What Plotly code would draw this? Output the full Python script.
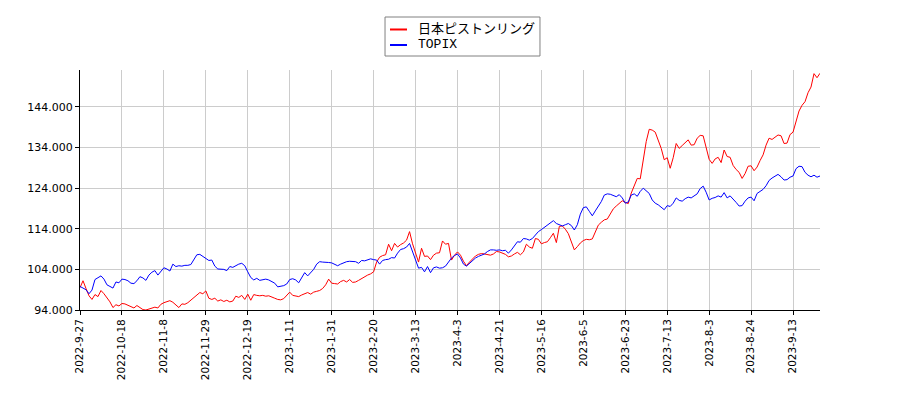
import plotly.graph_objects as go

tick_labels = ["2022-9-27", "2022-10-18", "2022-11-8", "2022-11-29", "2022-12-19",
               "2023-1-11", "2023-1-31", "2023-2-20", "2023-3-13", "2023-4-3",
               "2023-4-21", "2023-5-16", "2023-6-5", "2023-6-23", "2023-7-13",
               "2023-8-3", "2023-8-24", "2023-9-13"]
tick_step = 14

series_names = ["日本ピストンリング", "TOPIX"]
series_colors = ["#ff0000", "#0000ff"]

piston = [
    99.5, 101.2, 99.3, 97.5, 96.6, 97.8, 97.3, 98.8, 98.0, 97.0,
    96.0, 94.6, 95.3, 95.0, 95.6, 95.5, 95.2, 94.8, 94.5, 95.1,
    94.6, 94.1, 94.0, 94.2, 94.4, 94.7, 94.5, 95.4, 95.8, 96.1,
    96.3, 95.9, 95.2, 94.6, 95.5, 95.4, 95.8, 96.4, 97.1, 97.8,
    98.3, 98.0, 98.7, 96.9, 96.6, 96.9, 96.2, 96.5, 96.1, 96.4,
    96.0, 96.2, 97.4, 97.1, 97.6, 96.6, 97.9, 96.4, 97.8, 97.6,
    97.5, 97.6, 97.4, 97.5, 97.1, 96.9, 96.6, 96.5, 96.8, 97.5,
    98.4, 97.6, 97.5, 97.3, 97.7, 98.0, 98.3, 97.9, 98.4, 98.6,
    98.8, 99.3, 100.2, 101.6, 100.6, 100.5, 100.4, 101.0, 101.3, 100.9,
    101.5, 100.8, 100.9, 101.3, 101.8, 102.3, 102.6, 102.9, 103.4, 105.8,
    107.0, 107.4, 107.6, 110.2, 108.6, 110.4, 109.5, 110.1, 110.5, 111.2,
    113.3, 110.3, 108.0, 105.8, 109.2, 107.2, 107.3, 106.4, 107.5, 108.0,
    108.1, 111.0, 110.2, 110.4, 106.3, 107.5, 108.3, 107.5, 106.0, 104.9,
    105.8, 106.6, 107.3, 107.7, 107.9, 107.8, 107.7, 107.5, 107.8, 108.4,
    108.3, 108.0, 107.7, 107.1, 107.3, 107.8, 108.2, 107.6, 108.3, 110.2,
    109.5, 109.2, 111.6, 111.4, 110.3, 110.6, 110.8, 111.8, 112.9, 110.6,
    114.6, 114.7, 113.9, 112.8, 110.5, 108.8, 109.6, 110.5, 111.1, 111.4,
    111.3, 111.5, 113.2, 114.9, 115.6, 116.2, 116.4, 117.5, 118.9, 119.6,
    120.3, 120.9, 120.5, 120.2, 122.8, 124.6, 126.4, 126.3, 131.5, 135.5,
    138.5, 138.3, 137.8, 136.0, 133.8, 131.0, 131.5, 128.9, 131.5, 135.0,
    133.8, 134.5, 135.3, 135.9, 134.6, 134.7, 136.3, 137.0, 136.9, 134.1,
    131.1, 130.1, 131.2, 131.6, 130.3, 133.4, 131.8, 131.6, 129.6, 128.6,
    127.9, 126.4, 127.6, 129.4, 129.5, 128.3, 129.2, 130.8, 132.2, 134.6,
    136.3, 136.0, 136.6, 137.1, 136.9, 135.0, 135.1, 137.2, 137.8, 140.5,
    143.0, 144.4, 145.3, 147.5, 148.9, 152.2, 151.2, 152.3,
]

topix = [
    99.8, 99.4, 99.0, 98.0, 98.9, 101.5, 102.0, 102.4, 101.6, 100.2,
    99.8, 99.4, 100.9, 100.7, 101.6, 101.5, 101.2, 100.6, 100.5, 101.2,
    102.2, 101.9, 101.3, 102.6, 103.3, 103.7, 102.6, 103.6, 104.4, 104.1,
    103.6, 105.3, 104.7, 104.9, 104.8, 105.0, 105.0, 105.2, 106.4, 107.6,
    107.7, 107.2, 106.5, 106.2, 106.3, 104.8, 104.1, 104.1, 104.0, 103.7,
    104.7, 104.5, 105.0, 105.3, 105.5, 104.9, 103.4, 102.0, 101.4, 101.8,
    101.3, 101.5, 101.6, 101.4, 100.9, 100.6, 99.7, 99.8, 100.0, 100.4,
    101.5, 101.7, 101.4, 100.7, 101.8, 103.2, 102.4, 103.3, 104.0, 105.3,
    105.9, 105.8, 105.8, 105.7, 105.6, 105.3, 104.9, 105.3, 105.6, 105.9,
    106.0, 106.0, 105.9, 105.5, 106.2, 106.1, 106.3, 106.6, 106.4, 106.3,
    105.3, 106.2, 106.4, 106.5, 106.9, 106.8, 108.0, 108.9, 109.1, 109.5,
    110.4, 108.5, 106.5, 104.3, 104.5, 103.4, 104.7, 103.2, 104.4, 104.6,
    104.3, 104.4, 104.8, 105.9, 106.8, 107.4, 107.8, 106.8, 105.3, 104.8,
    105.5, 106.1, 106.8, 107.2, 107.5, 107.8, 108.4, 108.8, 108.8, 108.7,
    108.8, 108.6, 108.7, 108.0, 108.8, 109.9, 110.8, 110.7, 111.6, 111.5,
    111.2, 111.6, 112.6, 113.3, 113.8, 114.3, 114.9, 115.5, 116.0, 115.3,
    115.0, 114.7, 115.0, 115.3, 114.8, 113.7, 115.0, 117.6, 119.2, 119.4,
    118.3, 117.2, 118.4, 119.6, 120.7, 122.3, 122.6, 122.5, 122.2, 121.9,
    122.4, 121.6, 120.3, 120.6, 122.3, 122.6, 122.0, 123.2, 124.0, 123.4,
    122.7, 121.1, 120.3, 119.9, 119.4, 118.7, 119.7, 119.5, 120.3, 121.6,
    121.0, 120.8, 121.4, 121.8, 121.6, 122.2, 122.6, 123.9, 124.5, 123.0,
    121.1, 121.5, 121.7, 122.1, 121.8, 122.9, 121.6, 122.1, 121.4, 120.5,
    119.6, 119.7, 120.8, 121.6, 121.8, 120.9, 122.7, 123.2, 123.7, 124.6,
    125.9, 126.5, 127.0, 127.4, 126.8, 126.0, 126.1, 126.7, 127.0, 128.8,
    129.4, 129.3, 127.9, 127.2, 126.8, 127.2, 126.7, 127.0,
]

y_ticks = [94, 104, 114, 124, 134, 144]

n = len(piston)
tick_vals = [i * tick_step for i in range(len(tick_labels))]

fig = go.Figure()
for name, vals, col in zip(series_names, [piston, topix], series_colors):
    fig.add_trace(go.Scatter(x=list(range(len(vals))), y=vals, mode="lines", name=name,
                             line=dict(color=col, width=1)))

mono = "Liberation Mono, Noto Sans CJK JP"
sans = "DejaVu Sans"

# legend drawn manually (paper coordinates)
box = dict(x0=0.4122, x1=0.6216, y0=1.0583, y1=1.2208)
fig.add_shape(type="rect", xref="paper", yref="paper", line=dict(color="#808080", width=1),
              fillcolor="white", **box)
leg_y = [1.1688, 1.1042]
for name, col, yy in zip(series_names, series_colors, leg_y):
    fig.add_shape(type="line", xref="paper", yref="paper", x0=0.4189, x1=0.4419,
                  y0=yy, y1=yy, line=dict(color=col, width=2))
    fig.add_annotation(xref="paper", yref="paper", x=0.4541, y=yy, text=name,
                       showarrow=False, xanchor="left", yanchor="middle",
                       font=dict(family=mono, size=13, color="black"))

fig.update_layout(
    width=900, height=400,
    margin=dict(l=72, r=88, t=62, b=98, autoexpand=False),
    paper_bgcolor="white", plot_bgcolor="white",
    font=dict(family=sans, size=11, color="black"),
    showlegend=False,
)
fig.update_xaxes(range=[0, n - 1], tickmode="array", tickvals=tick_vals,
                 ticktext=tick_labels, tickangle=-90, showgrid=True,
                 gridcolor="#cccccc", gridwidth=1, showline=True, linecolor="black",
                 linewidth=1, ticks="outside", ticklen=4, tickcolor="black",
                 tickfont=dict(family=sans, size=10.5), zeroline=False, mirror=False)
fig.update_yaxes(range=[94, 153.1], tickmode="array", tickvals=y_ticks,
                 ticktext=[f"{v:.3f}" for v in y_ticks], showgrid=True,
                 gridcolor="#cccccc", gridwidth=1, showline=True, linecolor="black",
                 linewidth=1, ticks="outside", ticklen=4, tickcolor="black",
                 tickfont=dict(family=sans, size=11), zeroline=False, mirror=False)

fig.write_html("out.html")
